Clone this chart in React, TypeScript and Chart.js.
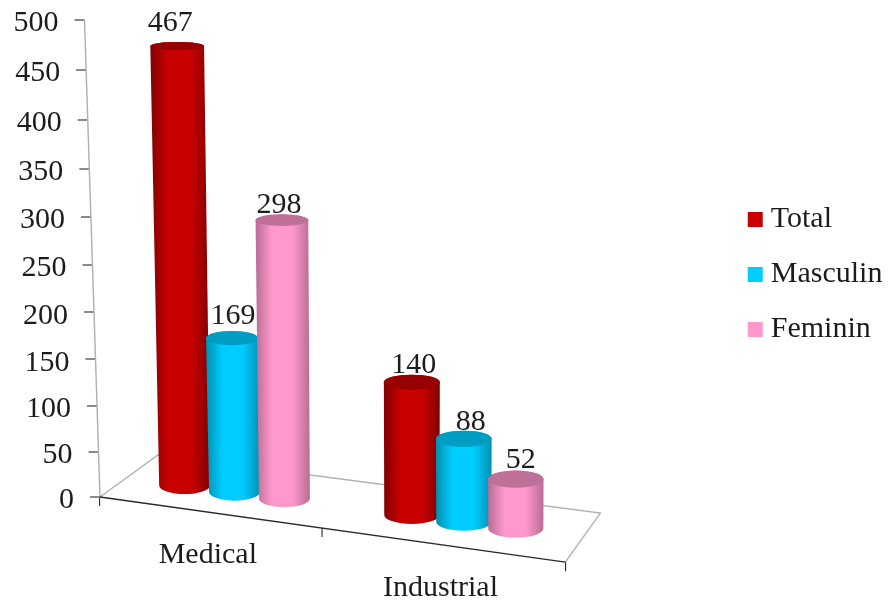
import React, { useEffect, useRef } from "react";
import { Chart, registerables, LinearScale, CategoryScale } from "chart.js";

const categories = ["Medical", "Industrial"];
const seriesNames = ["Total", "Masculin", "Feminin"];
const totalValues = [467, 140];
const masculinValues = [169, 88];
const femininValues = [298, 52];
const yMin = 0;
const yMax = 500;
const yStep = 50;

const mainColors = ["#C80000", "#00CCFF", "#FF99CC"];
const edgeColors = ["#820000", "#0090B0", "#B86C94"];
const capColors = ["#960000", "#009CC2", "#BE7098"];
const FONT = "'Liberation Serif', 'Times New Roman', serif";
const TEXT = "#1c1c1c";
const FONT_SIZE = 30;

const WALL_LEAN = 15.5;
const FRONT_SLOPE = 0.14;
const warp = (t: number) => t - 0.054 * t * (1 - t);

class WarpedLinear extends (LinearScale as any) {
  static id = "warpedLinear";
  static defaults = (LinearScale as any).defaults;
  getPixelForValue(value: number) {
    if (value === null || value === undefined) return NaN;
    const t = (value - this.min) / (this.max - this.min);
    return this.getPixelForDecimal(warp(t));
  }
  leanAt(y: number) {
    return -WALL_LEAN * ((this.bottom - y) / (this.bottom - this.top));
  }
  _computeLabelItems(area: any) {
    const items = super._computeLabelItems(area);
    items.forEach((it: any) => {
      const tr = it.options.translation;
      tr[0] += this.leanAt(tr[1]);
      tr[1] += 3.5;
    });
    return items;
  }
  _computeGridLineItems(area: any) {
    const items = super._computeGridLineItems(area);
    items.forEach((it: any) => {
      const s = this.leanAt(it.ty1);
      it.tx1 += s;
      it.tx2 += s;
    });
    return items;
  }
}

class SlopedCategory extends (CategoryScale as any) {
  static id = "slopedCategory";
  static defaults = (CategoryScale as any).defaults;
  _computeLabelItems(area: any) {
    const items = super._computeLabelItems(area);
    items.forEach((it: any) => {
      const tr = it.options.translation;
      tr[1] += FRONT_SLOPE * (tr[0] - this.left);
      tr[0] -= 8.5;
    });
    return items;
  }
  _computeGridLineItems(area: any) {
    const items = super._computeGridLineItems(area);
    items.forEach((it: any) => {
      const t = (it.tx1 - this.left) / (this.right - this.left);
      const dx = -10.5 * (1 - Math.abs(2 * t - 1));
      const x = it.tx1 + dx;
      const dy = FRONT_SLOPE * (x - this.left);
      it.tx1 = x;
      it.tx2 = x;
      it.ty1 += dy;
      it.ty2 += dy;
    });
    return items;
  }
}

Chart.register(...registerables, WarpedLinear as any, SlopedCategory as any);

const spread = [0.95, 0.99];
const groupShift = [18.2, 14.8];
const gain = [0.99, 1.035];
const seriesGain = [1, 1, 1.011];
const widthGain = [0.97, 1.05];
const leanBySeries = [8, 7.5, 4.2];
const leanByCategory = [1, 0];
const labelNudgeX = [
  [-7, 2],
  [1, 7],
  [-3, 5],
];
const labelNudgeY = [
  [-23, -17],
  [-22, -17],
  [-15, -19],
];

const ryAt = (y: number) => 3.5 + 0.0105 * y;

const cylinderPlugin = {
  id: "cylinders",
  afterLayout(chart: any) {
    if (chart.legend) {
      chart.legend.left = 729.75;
      chart.legend.right = 891;
      chart.legend.top = 179.5;
      chart.legend.bottom = 605;
    }
  },
  beforeDatasetDraw() {
    return false;
  },
  beforeDatasetsDraw(chart: any) {
    const { ctx, chartArea: a } = chart;
    const y0 = a.bottom;
    const frontEnd = { x: a.right, y: y0 + FRONT_SLOPE * (a.right - a.left) };
    ctx.save();
    ctx.lineCap = "round";
    ctx.strokeStyle = "#b0b0b0";
    ctx.lineWidth = 1.4;
    ctx.beginPath();
    ctx.moveTo(a.left - WALL_LEAN, a.top);
    ctx.lineTo(a.left, y0);
    ctx.lineTo(a.left + 58, y0 - 42);
    ctx.lineTo(frontEnd.x + 35, frontEnd.y - 49);
    ctx.lineTo(frontEnd.x, frontEnd.y);
    ctx.stroke();
    ctx.strokeStyle = "#2a2a2a";
    ctx.lineWidth = 1.3;
    ctx.beginPath();
    ctx.moveTo(a.left, y0);
    ctx.lineTo(frontEnd.x, frontEnd.y);
    ctx.stroke();
    ctx.restore();
  },
  afterDatasetsDraw(chart: any) {
    const { ctx, chartArea: a } = chart;
    const xs = chart.scales.x;
    const ys = chart.scales.y;
    const y0 = ys.getPixelForValue(0);
    chart.data.datasets.forEach((ds: any, s: number) => {
      const meta = chart.getDatasetMeta(s);
      meta.data.forEach((el: any, c: number) => {
        const v = ds.data[c];
        const catX = xs.getPixelForValue(c);
        const bx = catX + groupShift[c] + (el.x - catX) * spread[c];
        const by = y0 + 0.13 * (bx - a.left) - 22.5;
        const h = (y0 - el.y) * gain[c] * seriesGain[s];
        const tx = bx - (leanBySeries[s] * leanByCategory[c] * v) / yMax;
        const ty = by - h;
        const bw = (el.width * widthGain[c]) / 2;
        const tw = bw + (1.5 * v) / yMax;
        const bry = ryAt(by);
        const try_ = ryAt(ty);

        const g = ctx.createLinearGradient(Math.min(tx - tw, bx - bw), 0, Math.max(tx + tw, bx + bw), 0);
        g.addColorStop(0, edgeColors[s]);
        g.addColorStop(0.3, mainColors[s]);
        g.addColorStop(0.68, mainColors[s]);
        g.addColorStop(1, edgeColors[s]);
        ctx.save();
        ctx.fillStyle = g;
        ctx.beginPath();
        ctx.moveTo(tx - tw, ty);
        ctx.lineTo(bx - bw, by);
        ctx.ellipse(bx, by, bw, bry, 0, Math.PI, 0, true);
        ctx.lineTo(tx + tw, ty);
        ctx.ellipse(tx, ty, tw, try_, 0, 0, Math.PI, true);
        ctx.closePath();
        ctx.fill();
        ctx.fillStyle = capColors[s];
        ctx.beginPath();
        ctx.ellipse(tx, ty, tw, try_, 0, 0, Math.PI * 2);
        ctx.fill();
        ctx.fillStyle = TEXT;
        ctx.font = `${FONT_SIZE}px ${FONT}`;
        ctx.textAlign = "center";
        ctx.textBaseline = "middle";
        ctx.fillText(String(v), tx + labelNudgeX[s][c], ty + labelNudgeY[s][c]);
        ctx.restore();
      });
    });
  },
};

export default function App() {
  const ref = useRef<HTMLCanvasElement>(null);
  useEffect(() => {
    if (!ref.current) return;
    const values = [totalValues, masculinValues, femininValues];
    const chart = new Chart(ref.current, {
      type: "bar",
      data: {
        labels: categories,
        datasets: seriesNames.map((name, i) => ({
          label: name,
          data: values[i],
          backgroundColor: mainColors[i],
          borderWidth: 0,
          pointStyle: "rect",
          categoryPercentage: 0.677,
          barPercentage: 1,
        })),
      },
      options: {
        responsive: false,
        animation: false,
        devicePixelRatio: 1,
        layout: { autoPadding: false, padding: { top: 20, left: 0, bottom: 0, right: 163 } },
        plugins: {
          tooltip: { enabled: false },
          legend: {
            position: "right",
            align: "start",
            labels: {
              usePointStyle: true,
              boxWidth: 1,
              boxHeight: 15,
              padding: 25,
              color: TEXT,
              font: { family: FONT, size: FONT_SIZE },
            },
          },
        },
        scales: {
          x: {
            type: "slopedCategory",
            offset: true,
            afterFit: (s: any) => {
              s.height = 108;
              s.paddingLeft = 0;
              s.paddingRight = 0;
            },
            grid: {
              offset: true,
              drawOnChartArea: false,
              drawTicks: true,
              tickLength: 9,
              color: "#2a2a2a",
              lineWidth: 1.1,
            },
            border: { display: false },
            ticks: {
              color: TEXT,
              padding: 15,
              maxRotation: 0,
              font: { family: FONT, size: FONT_SIZE },
            },
          },
          y: {
            type: "warpedLinear",
            min: yMin,
            max: yMax,
            afterFit: (s: any) => {
              s.width = 100;
              s.paddingTop = 0;
              s.paddingBottom = 0;
            },
            grid: {
              drawOnChartArea: false,
              drawTicks: true,
              tickLength: 10,
              color: "#8a8a8a",
              lineWidth: 2,
            },
            border: { display: false },
            ticks: {
              stepSize: yStep,
              autoSkip: false,
              color: TEXT,
              padding: 16,
              font: { family: FONT, size: FONT_SIZE },
            },
          },
        },
      } as any,
      plugins: [cylinderPlugin as any],
    });
    return () => chart.destroy();
  }, []);
  return (
    <div style={{ position: "absolute", left: 0, top: 0, width: 891, height: 605, background: "#fff" }}>
      <canvas ref={ref} width={891} height={605} style={{ display: "block" }} />
    </div>
  );
}
